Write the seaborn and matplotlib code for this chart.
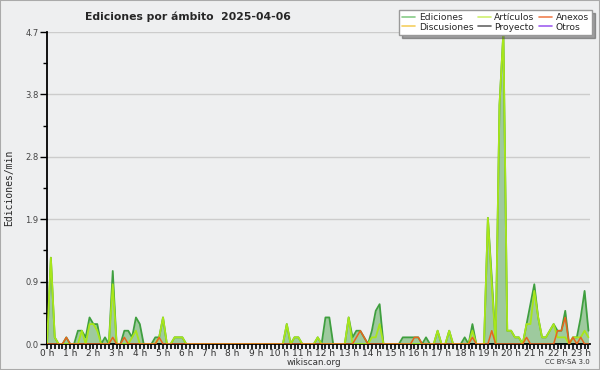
import matplotlib
matplotlib.use("Agg")
import matplotlib.pyplot as plt
import seaborn as sns
import pandas as pd
from matplotlib.lines import Line2D
from matplotlib.patches import Rectangle
from matplotlib.ticker import FixedLocator, MultipleLocator

# ediciones por minuto, un valor cada 10 minutos (una fila = una hora)
minutos = list(range(0, 1410, 10))

ediciones = [
    0, 1.3, 0.1, 0, 0, 0.1,
    0, 0, 0.2, 0.2, 0.1, 0.4,
    0.3, 0.3, 0, 0.1, 0, 1.1,
    0, 0, 0.2, 0.2, 0.1, 0.4,
    0.3, 0, 0, 0, 0.1, 0.1,
    0.4, 0, 0, 0.1, 0.1, 0.1,
    0, 0, 0, 0, 0, 0,
    0, 0, 0, 0, 0, 0,
    0, 0, 0, 0, 0, 0,
    0, 0, 0, 0, 0, 0,
    0, 0, 0.3, 0, 0.1, 0.1,
    0, 0, 0, 0, 0.1, 0,
    0.4, 0.4, 0, 0, 0, 0,
    0.4, 0.1, 0.2, 0.2, 0.1, 0,
    0.2, 0.5, 0.6, 0, 0, 0,
    0, 0, 0.1, 0.1, 0.1, 0.1,
    0.1, 0, 0.1, 0, 0, 0.2,
    0, 0, 0.2, 0, 0, 0,
    0.1, 0, 0.3, 0, 0, 0,
    1.9, 1.0, 0, 3.6, 4.7, 0.2,
    0.2, 0.1, 0.1, 0, 0.3, 0.6,
    0.9, 0.4, 0.1, 0.1, 0.2, 0.3,
    0.2, 0.2, 0.5, 0, 0.1, 0.1,
    0.4, 0.8, 0.2,
]

articulos = [
    0, 1.3, 0.1, 0, 0, 0,
    0, 0, 0, 0.2, 0, 0.3,
    0.3, 0.2, 0, 0, 0, 0.9,
    0, 0, 0, 0, 0.1, 0.2,
    0, 0, 0, 0, 0, 0.1,
    0.4, 0, 0, 0.1, 0.1, 0.1,
    0, 0, 0, 0, 0, 0,
    0, 0, 0, 0, 0, 0,
    0, 0, 0, 0, 0, 0,
    0, 0, 0, 0, 0, 0,
    0, 0, 0.3, 0, 0.1, 0.1,
    0, 0, 0, 0, 0.1, 0,
    0, 0, 0, 0, 0, 0,
    0.4, 0, 0, 0, 0, 0,
    0.1, 0.1, 0.3, 0, 0, 0,
    0, 0, 0, 0, 0, 0,
    0, 0, 0, 0, 0, 0.2,
    0, 0, 0.2, 0, 0, 0,
    0, 0, 0.2, 0, 0, 0,
    1.9, 0.9, 0, 3.6, 4.7, 0.2,
    0.2, 0.1, 0.1, 0, 0.3, 0.3,
    0.8, 0.4, 0.1, 0.1, 0.2, 0.3,
    0.1, 0.1, 0.1, 0, 0.1, 0.1,
    0.1, 0.2, 0.1,
]

anexos = [
    0, 0, 0, 0, 0, 0.1,
    0, 0, 0, 0, 0, 0,
    0, 0, 0, 0, 0, 0.1,
    0, 0, 0.1, 0, 0, 0,
    0, 0, 0, 0, 0, 0.1,
    0, 0, 0, 0, 0, 0,
    0, 0, 0, 0, 0, 0,
    0, 0, 0, 0, 0, 0,
    0, 0, 0, 0, 0, 0,
    0, 0, 0, 0, 0, 0,
    0, 0, 0, 0, 0, 0,
    0, 0, 0, 0, 0, 0,
    0, 0, 0, 0, 0, 0,
    0, 0, 0.1, 0.2, 0.1, 0,
    0, 0, 0, 0, 0, 0,
    0, 0, 0, 0, 0, 0.1,
    0.1, 0, 0, 0, 0, 0,
    0, 0, 0, 0, 0, 0,
    0, 0, 0.1, 0, 0, 0,
    0, 0.2, 0, 0, 0, 0,
    0, 0, 0, 0, 0.1, 0,
    0, 0, 0, 0, 0, 0,
    0.2, 0.2, 0.4, 0, 0.1, 0,
    0.1, 0, 0,
]

series = ["Ediciones", "Discusiones", "Artículos", "Proyecto", "Anexos", "Otros"]
colores = {
    "Ediciones": "#3f9f3f",
    "Artículos": "#a8e61a",
    "Anexos": "#e8641e",
}
colores_leyenda = {
    "Ediciones": "#88cc88",
    "Discusiones": "#f5d060",
    "Artículos": "#d0f070",
    "Proyecto": "#666666",
    "Anexos": "#f08050",
    "Otros": "#a060f0",
}

y_max = 4.7
y_ticks = [0, 0.94, 1.88, 2.82, 3.76, 4.7]
hour_labels = [f"{h} h" for h in range(24)]

BG = "#eeeff0"


def main():
    df = pd.DataFrame({
        "hora": [m / 60 for m in minutos],
        "Ediciones": ediciones,
        "Artículos": articulos,
        "Anexos": anexos,
    })

    sns.set_theme(style="white")
    plt.rcParams["font.family"] = ["DejaVu Sans"]

    fig = plt.figure(figsize=(6, 3.7), dpi=100)
    fig.patch.set_facecolor(BG)
    ax = fig.add_axes([47 / 600, 26 / 370, 543 / 600, 312 / 370])
    ax.set_facecolor(BG)

    for y in y_ticks:
        ax.axhline(y, color="#cccccc", lw=1, zorder=0)

    ax.fill_between(df["hora"], df["Ediciones"], color="#90c490", alpha=0.85, lw=0, zorder=1)
    sns.lineplot(data=df, x="hora", y="Ediciones", ax=ax, color=colores["Ediciones"],
                 lw=1.3, estimator=None, zorder=2)
    sns.lineplot(data=df, x="hora", y="Artículos", ax=ax, color=colores["Artículos"],
                 lw=1.3, estimator=None, zorder=3)
    sns.lineplot(data=df, x="hora", y="Anexos", ax=ax, color=colores["Anexos"],
                 lw=1.1, estimator=None, zorder=4)

    ax.set_xlim(0, 23.4)
    ax.set_ylim(0, y_max)

    ax.xaxis.set_major_locator(FixedLocator(range(24)))
    ax.set_xticklabels(hour_labels)
    ax.xaxis.set_minor_locator(MultipleLocator(1 / 6))
    ax.yaxis.set_major_locator(FixedLocator(y_ticks))
    ax.set_yticklabels([f"{v:.1f}" for v in y_ticks])
    ax.yaxis.set_minor_locator(FixedLocator([v + 0.47 for v in y_ticks[:-1]]))

    ax.tick_params(axis="x", which="both", direction="out", length=3.5, width=1.2,
                   color="black", bottom=True, labelsize=6.5, labelcolor="#333333", pad=0)
    ax.tick_params(axis="y", which="major", direction="out", length=5, width=1,
                   color="black", left=True, labelsize=6, labelcolor="#444444", pad=1)
    ax.tick_params(axis="y", which="minor", direction="out", length=3, width=1,
                   color="black", left=True)

    for side in ["top", "right"]:
        ax.spines[side].set_visible(False)
    for side in ["left", "bottom"]:
        ax.spines[side].set_color("black")
        ax.spines[side].set_linewidth(1.3)

    ax.set_xlabel("")
    ax.set_ylabel("Ediciones/min", family="DejaVu Sans Mono", fontsize=7)
    ax.yaxis.set_label_coords(-0.06, 0.5)

    fig.text(85 / 600, 1 - 17 / 370, "Ediciones por ámbito  2025-04-06",
             fontsize=7.8, fontweight="bold", va="center", ha="left")
    fig.text(314 / 600, 1 - 362.5 / 370, "wikiscan.org", fontsize=6.3, color="#333333",
             ha="center", va="center")
    fig.text(590 / 600, 1 - 362.5 / 370, "CC BY-SA 3.0", fontsize=5, color="#333333",
             ha="right", va="center")

    handles = [Line2D([], [], color=colores_leyenda[s], lw=1.2) for s in series]
    fig.legend(handles, series, loc="upper right", bbox_to_anchor=(592 / 600, 1 - 10 / 370),
               ncol=3, fontsize=6.6, frameon=True, fancybox=False, shadow=True,
               edgecolor="#999999", facecolor="white", framealpha=1,
               handlelength=1.4, columnspacing=0.5, labelspacing=0.05,
               borderpad=0.35, handletextpad=0.4, borderaxespad=0)

    fig.add_artist(Rectangle((0, 0), 1, 1, transform=fig.transFigure, fill=False,
                             edgecolor="#aaaaaa", lw=1.5))

    fig.savefig("out.png", dpi=100, facecolor=BG)


if __name__ == "__main__":
    main()
